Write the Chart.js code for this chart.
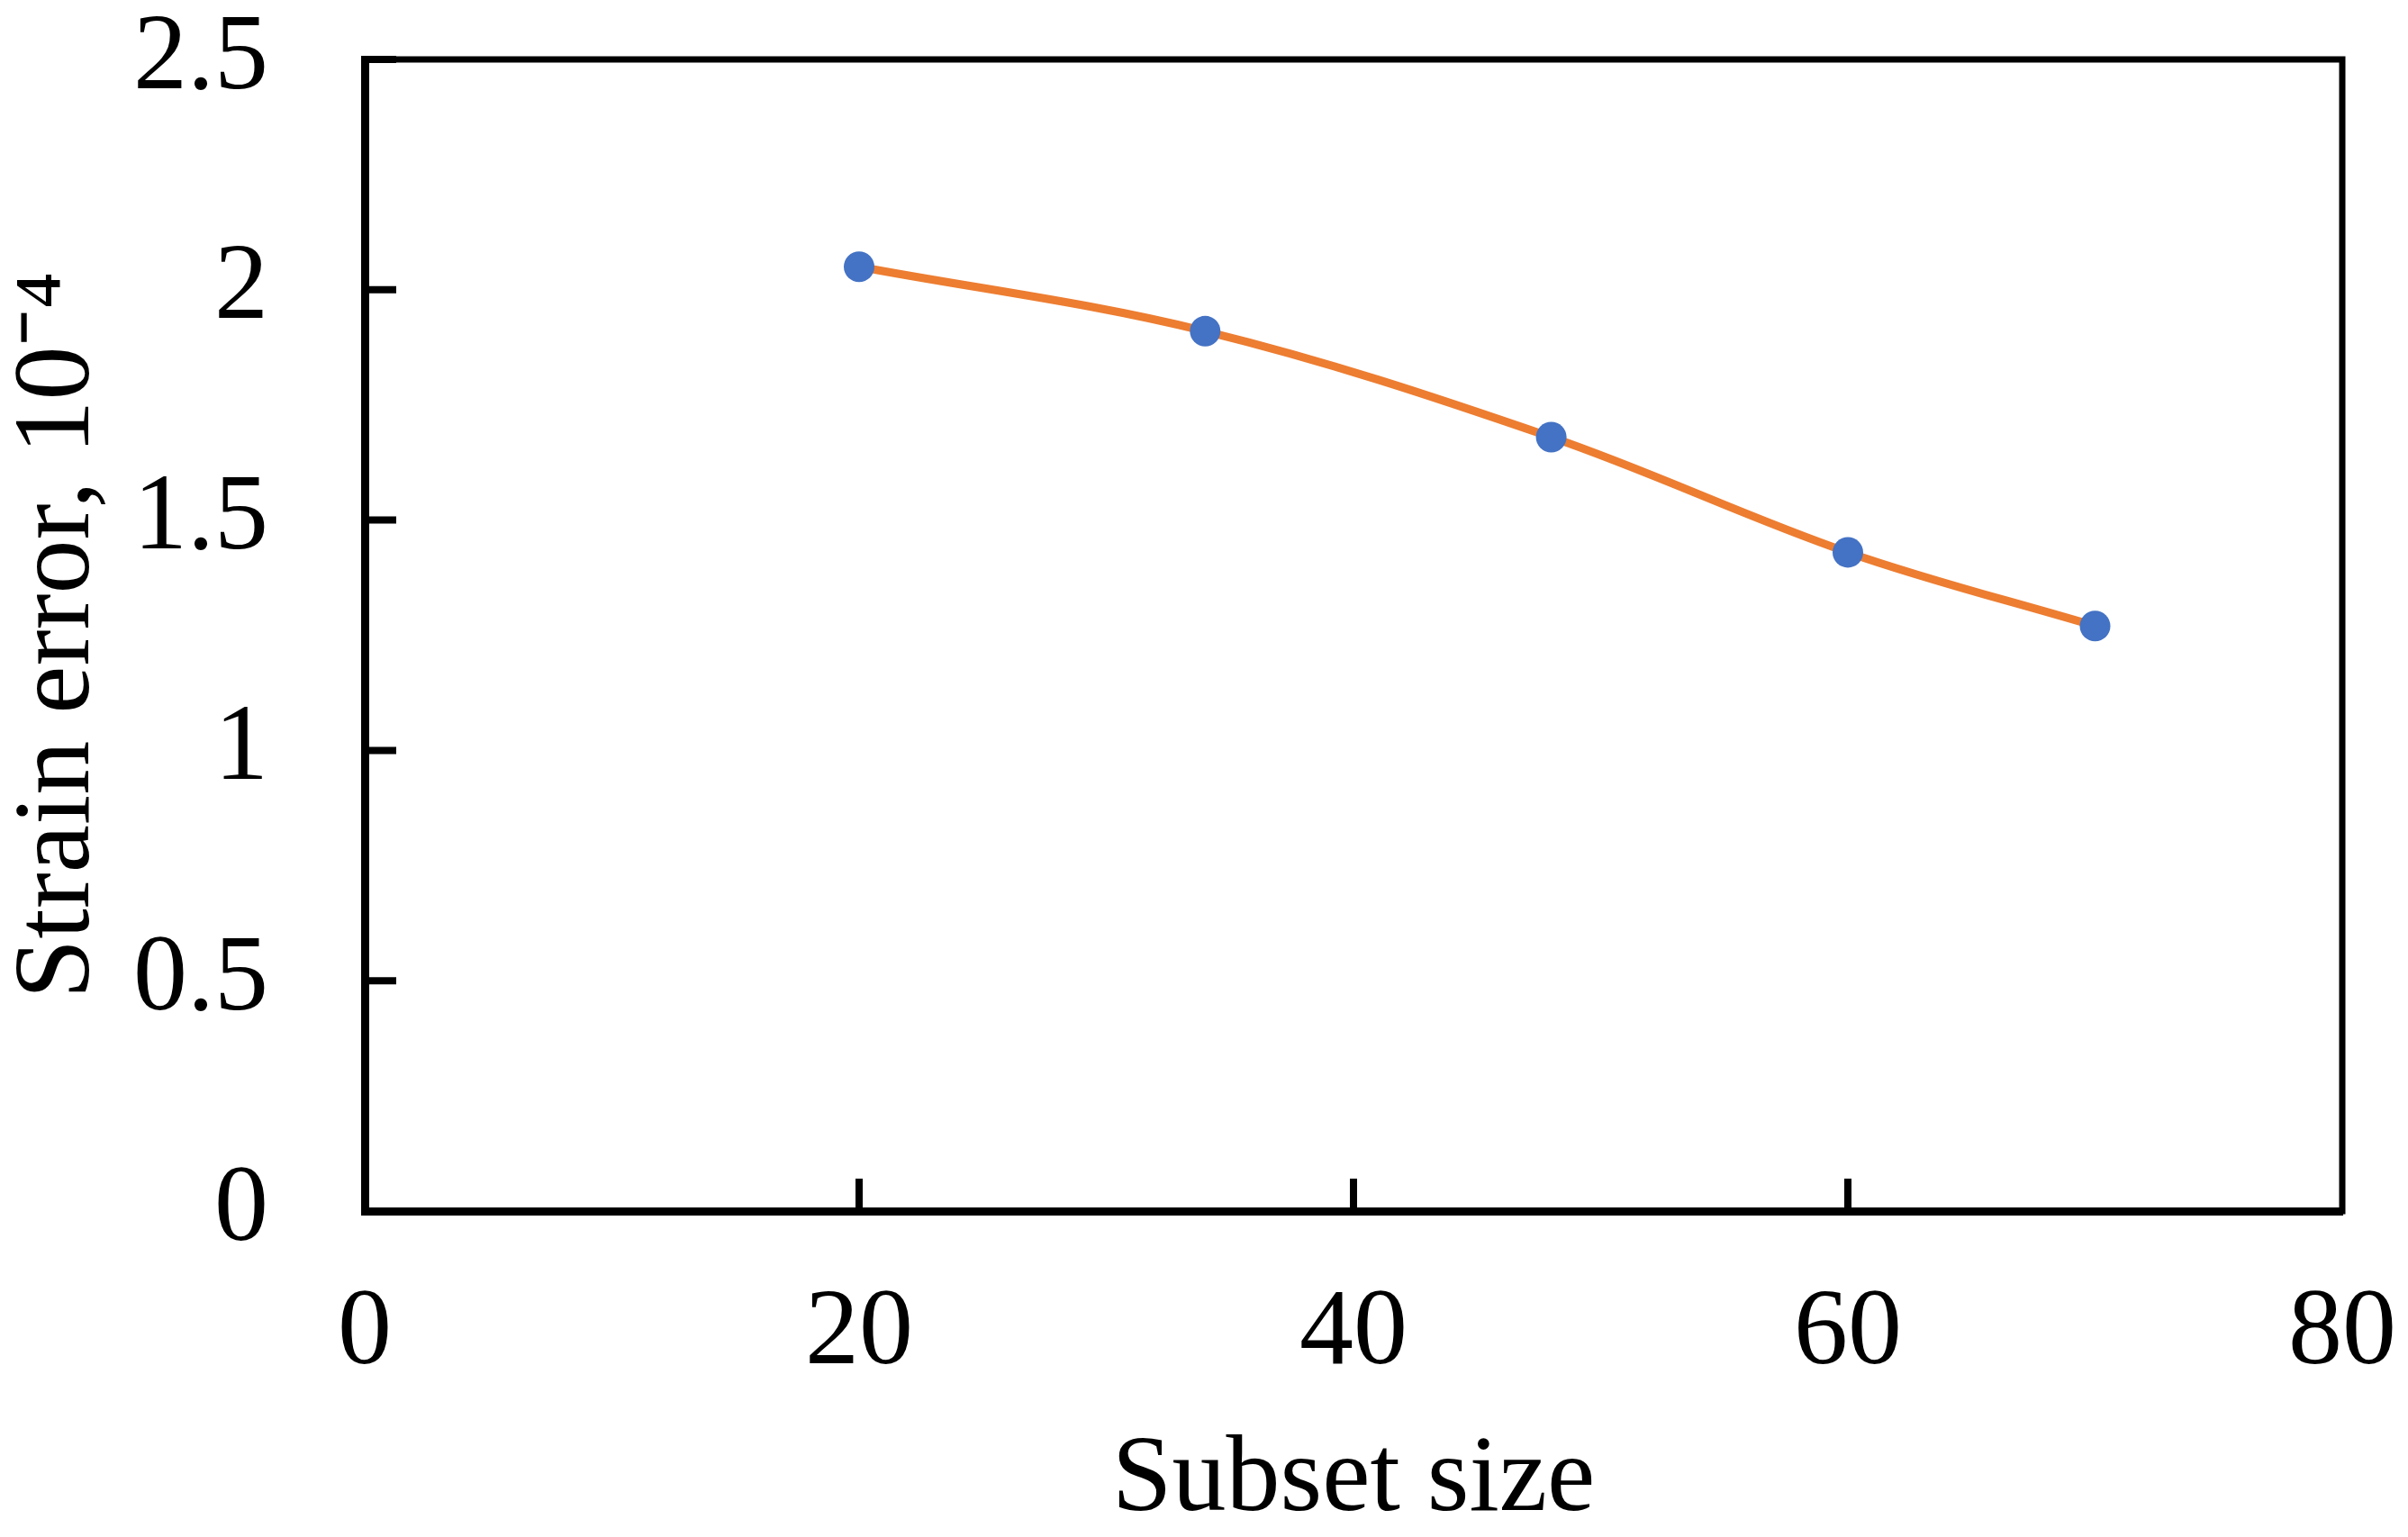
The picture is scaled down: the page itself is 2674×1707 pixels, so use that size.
<!DOCTYPE html>
<html>
<head>
<meta charset="utf-8">
<title>Strain error vs subset size</title>
<script src="https://cdn.jsdelivr.net/npm/chart.js@4.4.1/dist/chart.umd.min.js"></script>
<style>
  html, body { margin: 0; padding: 0; background: #fff; overflow: hidden; }
  canvas { display: block; }
</style>
</head>
<body>
<canvas id="strainChart" width="2674" height="1707"></canvas>
<script>
// values
const subsetSizes = [20, 34, 48, 60, 70];
const strainErrors = [2.05, 1.91, 1.68, 1.43, 1.27];
const xTickValues = [0, 20, 40, 60, 80];
const yTickValues = [0, 0.5, 1, 1.5, 2, 2.5];

const serif = "'Liberation Serif', 'Times New Roman', serif";

// inward tick marks and the top/right frame lines
const frameTicks = {
    id: 'frameTicks',
    beforeDatasetsDraw(chart) {
        const ctx = chart.ctx;
        const area = chart.chartArea;
        const xs = chart.scales.x;
        const ys = chart.scales.y;
        ctx.save();
        ctx.strokeStyle = '#000';
        ctx.lineCap = 'butt';
        ctx.lineWidth = 8;
        xs.ticks.forEach(function (t) {
            const px = xs.getPixelForValue(t.value);
            if (px <= area.left + 1 || px >= area.right - 1) return;
            ctx.beginPath();
            ctx.moveTo(px, area.bottom);
            ctx.lineTo(px, area.bottom - 36);
            ctx.stroke();
        });
        ys.ticks.forEach(function (t) {
            const py = ys.getPixelForValue(t.value);
            if (py >= area.bottom - 1) return;
            ctx.beginPath();
            ctx.moveTo(area.left, py);
            ctx.lineTo(area.left + 35, py);
            ctx.stroke();
        });
        ctx.lineWidth = 7;
        ctx.lineCap = 'square';
        ctx.beginPath();
        ctx.moveTo(area.left, area.top);
        ctx.lineTo(area.right, area.top);
        ctx.lineTo(area.right, area.bottom);
        ctx.stroke();
        ctx.restore();
    }
};

const points = subsetSizes.map(function (s, i) {
    return { x: s, y: strainErrors[i] };
});

function plainLabel(v) {
    return String(v);
}

new Chart(document.getElementById('strainChart').getContext('2d'), {
    type: 'line',
    data: {
        datasets: [{
            data: points,
            borderColor: '#ED7D31',
            borderWidth: 9,
            tension: 0.35,
            pointRadius: 17,
            pointBackgroundColor: '#4472C4',
            pointBorderColor: '#4472C4',
            pointBorderWidth: 0,
            pointHoverRadius: 17
        }]
    },
    options: {
        responsive: false,
        devicePixelRatio: 1,
        animation: false,
        layout: { padding: { top: 66, right: 73, bottom: 0, left: 0 } },
        plugins: {
            legend: { display: false },
            tooltip: { enabled: false }
        },
        scales: {
            x: {
                type: 'linear',
                min: 0,
                max: 80,
                afterBuildTicks: function (scale) {
                    scale.ticks = xTickValues.map(function (v) { return { value: v }; });
                },
                afterFit: function (scale) {
                    scale.height = 362;
                    scale.paddingLeft = 0;
                    scale.paddingRight = 0;
                },
                grid: { display: false, drawTicks: false, tickLength: 0 },
                border: { display: true, color: '#000', width: 9 },
                ticks: {
                    color: '#000',
                    padding: 71,
                    maxRotation: 0,
                    callback: plainLabel,
                    font: { family: serif, size: 120, lineHeight: 1.1 }
                },
                title: {
                    display: true,
                    text: 'Subset size',
                    color: '#000',
                    padding: { top: 0, bottom: -4 },
                    font: { family: serif, size: 120, lineHeight: 1.1 }
                }
            },
            y: {
                min: 0,
                max: 2.5,
                afterBuildTicks: function (scale) {
                    scale.ticks = yTickValues.map(function (v) { return { value: v }; });
                },
                afterFit: function (scale) {
                    scale.width = 405;
                    scale.paddingTop = 0;
                    scale.paddingBottom = 0;
                },
                grid: { display: false, drawTicks: false, tickLength: 0 },
                border: { display: true, color: '#000', width: 9 },
                ticks: {
                    color: '#000',
                    padding: 107,
                    callback: plainLabel,
                    font: { family: serif, size: 120, lineHeight: 1.1 }
                },
                title: {
                    display: true,
                    text: 'Strain error, 10\u207B\u2074',
                    color: '#000',
                    padding: { top: 0, bottom: 0 },
                    font: { family: serif, size: 120, lineHeight: 1.1 }
                }
            }
        }
    },
    plugins: [frameTicks]
});
</script>
</body>
</html>
